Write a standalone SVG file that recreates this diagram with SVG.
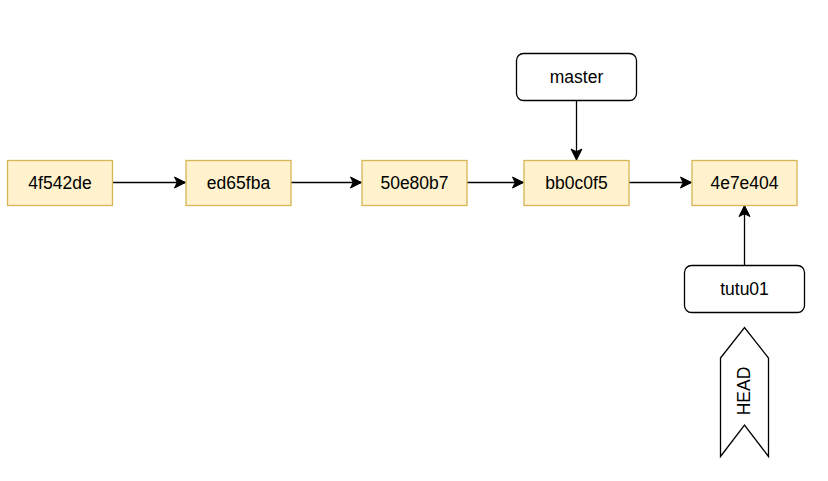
<svg xmlns="http://www.w3.org/2000/svg" width="828" height="481" viewBox="0 0 828 481">
<defs>
<style>
.commit{fill:#fff2cc;stroke:#d6b656;stroke-width:1.3}
.branch{fill:#ffffff;stroke:#000000;stroke-width:1.3}
.lbl{font-family:"Liberation Sans",Arial,Helvetica,sans-serif;font-size:17.5px;fill:#000000;text-anchor:middle;dominant-baseline:central}
.edge{stroke:#000000;stroke-width:1.3;fill:none}
</style>
<marker id="arr" markerUnits="userSpaceOnUse" markerWidth="14" markerHeight="14" viewBox="-12 -7 14 14" refX="0" refY="0" orient="auto">
<path d="M0,0 L-11,-5.5 L-8.3,0 L-11,5.5 Z" fill="#000000" stroke="#000000" stroke-width="1"/>
</marker>
</defs>
<rect width="828" height="481" fill="#ffffff"/>
<g id="connectors">
<line class="edge" x1="113" y1="182.5" x2="185.5" y2="182.5" marker-end="url(#arr)"/>
<line class="edge" x1="291" y1="182.5" x2="361.5" y2="182.5" marker-end="url(#arr)"/>
<line class="edge" x1="467" y1="182.5" x2="523.5" y2="182.5" marker-end="url(#arr)"/>
<line class="edge" x1="629" y1="182.5" x2="691.5" y2="182.5" marker-end="url(#arr)"/>
<line class="edge" x1="576.5" y1="100.5" x2="576.5" y2="160" marker-end="url(#arr)"/>
<line class="edge" x1="744.5" y1="265.5" x2="744.5" y2="205.5" marker-end="url(#arr)"/>
</g>
<g id="c1"><rect class="commit" x="7.5" y="160.5" width="105" height="45"/><text class="lbl" x="60" y="183">4f542de</text></g>
<g id="c2"><rect class="commit" x="186" y="160.5" width="105" height="45"/><text class="lbl" x="238.5" y="183">ed65fba</text></g>
<g id="c3"><rect class="commit" x="362" y="160.5" width="105" height="45"/><text class="lbl" x="414.5" y="183">50e80b7</text></g>
<g id="c4"><rect class="commit" x="524" y="160.5" width="105" height="45"/><text class="lbl" x="576.5" y="183">bb0c0f5</text></g>
<g id="c5"><rect class="commit" x="692" y="160.5" width="105" height="45"/><text class="lbl" x="744.5" y="183">4e7e404</text></g>
<g id="master"><rect class="branch" x="516.5" y="53.5" width="120" height="47" rx="7" ry="7"/><text class="lbl" x="576.5" y="77">master</text></g>
<g id="tutu01"><rect class="branch" x="684.5" y="265.5" width="120" height="47" rx="7" ry="7"/><text class="lbl" x="744.5" y="289">tutu01</text></g>
<g id="head"><polygon class="branch" points="720.5,358 744.5,327.5 768.5,358 768.5,456.5 744.5,425 720.5,456.5"/><text class="lbl" transform="translate(744,391) rotate(-90)" x="0" y="0">HEAD</text></g>
</svg>
